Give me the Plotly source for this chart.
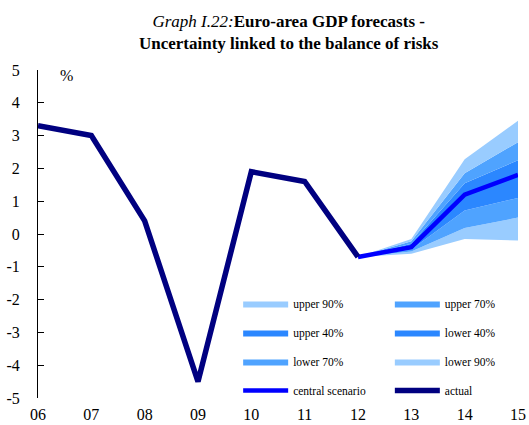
import plotly.graph_objects as go

years = ["06", "07", "08", "09", "10", "11", "12", "13", "14", "15"]
actual = [3.3, 3.0, 0.4, -4.5, 1.9, 1.6, -0.7]
actual_years = years[:7]

fan_years = ["12", "13", "14", "15"]
central = [-0.7, -0.4, 1.2, 1.8]
upper90 = [-0.7, -0.15, 2.28, 3.45]
upper70 = [-0.7, -0.22, 1.85, 2.8]
upper40 = [-0.7, -0.3, 1.55, 2.25]
lower40 = [-0.7, -0.47, 0.72, 1.1]
lower70 = [-0.7, -0.53, 0.18, 0.5]
lower90 = [-0.7, -0.6, -0.15, -0.2]

y_tickvals = [5, 4, 3, 2, 1, 0, -1, -2, -3, -4, -5]
y_ticktext = ["5", "4", "3", "2", "1", "0", "-1", "-2", "-3", "-4", "-5"]

LIGHT = "#99CCFF"
MID = "#4FA3FF"
DARK = "#2B87FF"
CENTRAL = "#0000FF"
ACTUAL = "#000080"
SERIF = "Liberation Serif"

fig = go.Figure()

# base boundary
fig.add_trace(go.Scatter(x=fan_years, y=lower90, mode="lines", line=dict(width=0),
                         showlegend=False, hoverinfo="skip"))

bands = [
    ("lower 90%", lower70, LIGHT, "legend2", 3),
    ("lower 70%", lower40, MID, "legend", 3),
    ("lower 40%", central, DARK, "legend2", 2),
    ("upper 40%", upper40, DARK, "legend", 2),
    ("upper 70%", upper70, MID, "legend2", 1),
    ("upper 90%", upper90, LIGHT, "legend", 1),
]
for name, ys, col, leg, rank in bands:
    fig.add_trace(go.Scatter(x=fan_years, y=ys, mode="lines", name=name,
                             line=dict(width=0, color=col), fill="tonexty",
                             fillcolor=col, legend=leg, legendrank=rank,
                             legendgroup=name))

fig.add_trace(go.Scatter(x=fan_years, y=central, mode="lines", name="central scenario",
                         line=dict(color=CENTRAL, width=4.5), legend="legend",
                         legendrank=4, legendgroup="central"))
fig.add_trace(go.Scatter(x=actual_years, y=actual, mode="lines", name="actual",
                         line=dict(color=ACTUAL, width=5.5), legend="legend2",
                         legendrank=4, legendgroup="actual"))

legend_common = dict(
    xanchor="left", yanchor="top", bgcolor="rgba(0,0,0,0)",
    font=dict(family=SERIF, size=11.5, color="black"),
    itemwidth=45, tracegroupgap=10, traceorder="grouped", orientation="v",
)

fig.update_layout(
    width=529, height=425,
    margin=dict(l=38, r=11, t=70, b=27),
    paper_bgcolor="white", plot_bgcolor="white",
    showlegend=True,
    legend=dict(x=0.417, y=0.332, **legend_common),
    legend2=dict(x=0.733, y=0.332, **legend_common),
    xaxis=dict(type="category", categoryarray=years, categoryorder="array",
               range=[0, 9], showline=False, showgrid=False, zeroline=False,
               ticks="", automargin=False, ticklabelstandoff=5,
               tickfont=dict(family=SERIF, size=16, color="black")),
    xaxis2=dict(overlaying="x", anchor="free", position=0.5, range=[0, 9],
                tick0=0, dtick=1, showline=True, linecolor="black", linewidth=1,
                ticks="inside", ticklen=5, tickcolor="black", showticklabels=False,
                showgrid=False, zeroline=False, automargin=False),
    yaxis=dict(range=[-5, 5], tickmode="array", tickvals=y_tickvals,
               ticktext=y_ticktext, showline=True, linecolor="black", linewidth=1,
               ticks="inside", ticklen=6, tickcolor="black", showgrid=False,
               zeroline=False, automargin=False,
               tickfont=dict(family=SERIF, size=16, color="black"),
               ticklabelstandoff=14),
    annotations=[
        dict(text="<i>Graph I.22:</i><b>Euro-area GDP forecasts -</b><br>"
                  "<b>Uncertainty linked to the balance of risks</b>",
             xref="paper", yref="paper", x=0.523, y=1.0, yshift=38, xanchor="center",
             yanchor="middle", showarrow=False,
             font=dict(family=SERIF, size=17, color="black")),
        dict(text="%", xref="paper", yref="paper", x=0.06, y=1.0, xanchor="center",
             yanchor="middle", yshift=-5, showarrow=False,
             font=dict(family=SERIF, size=16, color="black")),
    ],
)

fig.write_html("out.html", config={"displayModeBar": False},
               post_script="document.body.style.margin='0';")
